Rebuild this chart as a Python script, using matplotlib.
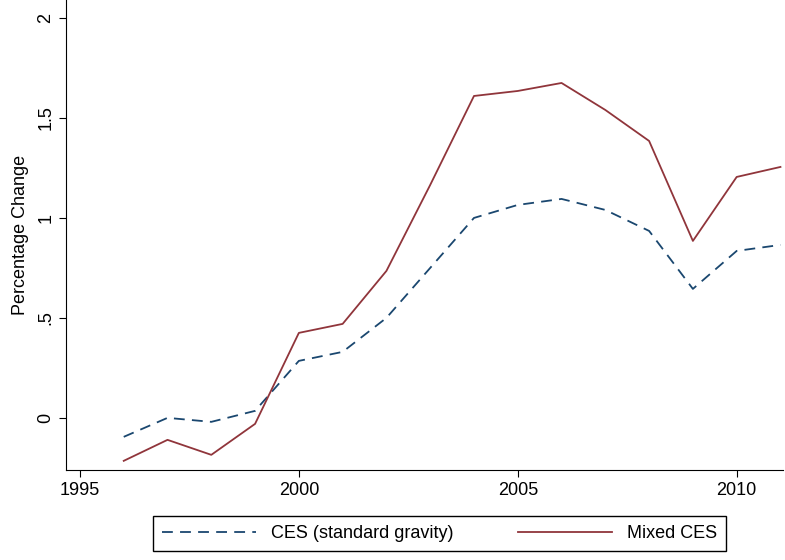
import matplotlib
matplotlib.use('Agg')
import matplotlib.pyplot as plt

years = list(range(1996, 2012))
ces = [-0.095, 0.0, -0.02, 0.035, 0.285, 0.33, 0.5, 0.75, 1.0, 1.065, 1.095, 1.04, 0.935, 0.645, 0.835, 0.865]
mixed = [-0.215, -0.11, -0.185, -0.03, 0.425, 0.47, 0.735, 1.165, 1.61, 1.635, 1.675, 1.54, 1.385, 0.885, 1.205, 1.255]

plt.rcParams['font.family'] = ['Liberation Sans', 'DejaVu Sans']
fig = plt.figure(figsize=(7.85, 5.6), dpi=100)
ax = fig.add_axes([0.084, 0.161, 0.913, 0.839])

ax.plot(years, ces, color='#1a476f', lw=1.3, dashes=(6, 4), label='CES (standard gravity)')
ax.plot(years, mixed, color='#90353b', lw=1.3, label='Mixed CES')

ax.set_xlim(1994.68, 2011.05)
ax.set_ylim(-0.26, 2.09)
ax.set_xticks([1995, 2000, 2005, 2010])
ax.set_yticks([0, 0.5, 1, 1.5, 2])
ax.set_yticklabels(['0', '.5', '1', '1.5', '2'], rotation=90, va='center')
ax.tick_params(labelsize=13, length=5)
ax.set_ylabel('Percentage Change', fontsize=13, labelpad=6)
for s in ['top', 'right']:
    ax.spines[s].set_visible(False)

fig.legend(loc='lower center', bbox_to_anchor=(0.56, 0.0), ncol=2, fontsize=13,
           fancybox=False, edgecolor='black', handlelength=5.2, columnspacing=3.6,
           borderpad=0.5, framealpha=1)
fig.savefig('out.png')
